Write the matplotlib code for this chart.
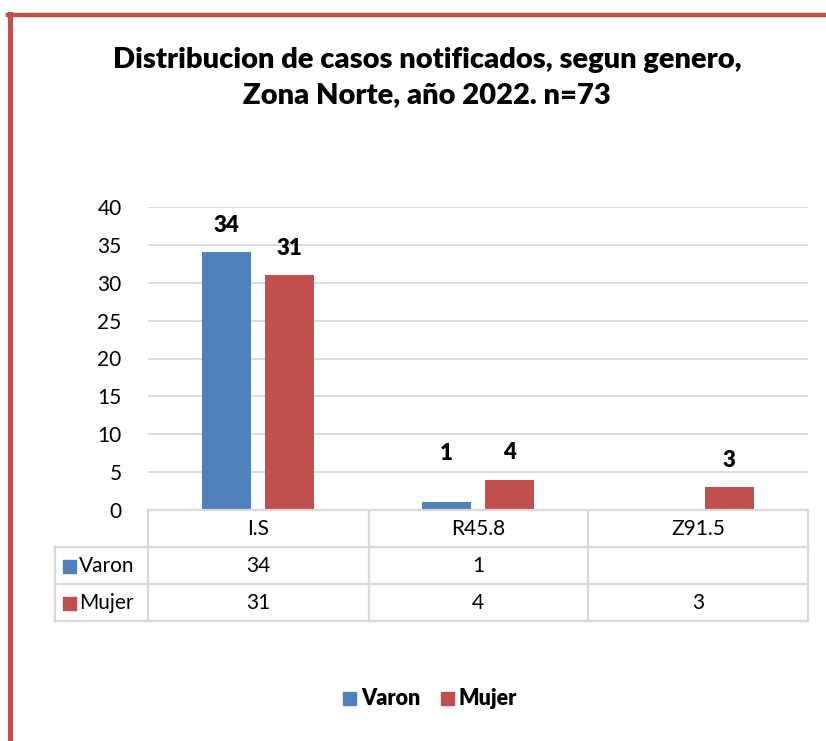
import matplotlib
matplotlib.use("Agg")
import matplotlib.pyplot as plt
from matplotlib.patches import Rectangle
from matplotlib.lines import Line2D

categories = ["I.S", "R45.8", "Z91.5"]
varon = [34, 1, None]
mujer = [31, 4, 3]
series_names = ["Varon", "Mujer"]
title = "Distribucion de casos notificados, segun genero,\nZona Norte, año 2022. n=73"
yticks = [0, 5, 10, 15, 20, 25, 30, 35, 40]

BLUE = "#4F81BD"
RED = "#C0504D"
GRID = "#D9D9D9"
FONT = ["Lato", "DejaVu Sans"]
plt.rcParams["font.family"] = FONT

W, H = 826, 741
fig = plt.figure(figsize=(W / 100, H / 100), dpi=100)

def fx(px):
    return px / W

def fy(py):
    return 1 - py / H

# Border (left and top red lines)
fig.add_artist(Line2D([fx(10), fx(10)], [fy(14), 0], transform=fig.transFigure, color=RED, lw=3.6))
fig.add_artist(Line2D([fx(8.2), 1], [fy(14.5), fy(14.5)], transform=fig.transFigure, color=RED, lw=3.2))

# Title
fig.text(fx(427), fy(77.5), title, ha="center", va="center", fontsize=21, fontweight="heavy",
         linespacing=1.42)

# Main axes
left, right, top, bottom = 148, 808, 207, 510
ax = fig.add_axes([fx(left), fy(bottom), fx(right - left), (bottom - top) / H])
ax.set_xlim(0, 3)
ax.set_ylim(0, 40)
ax.set_yticks(yticks)
ax.set_yticklabels([str(t) for t in yticks], fontsize=15)
ax.tick_params(axis="y", length=0, pad=19)
ax.set_xticks([])
for s in ax.spines.values():
    s.set_visible(False)
ax.yaxis.grid(True, color=GRID, lw=1.3)
ax.set_axisbelow(True)

bw = 49 / 220
off = 31.25 / 220
label_offsets = {("Varon", 1): 49}
for si, (name, vals, col, dx) in enumerate([("Varon", varon, BLUE, -off), ("Mujer", mujer, RED, off)]):
    for i, v in enumerate(vals):
        if v is None:
            continue
        x = i + 0.5 + dx
        ax.bar(x, v, width=bw, color=col, zorder=3)
        o = label_offsets.get((name, v), 27)
        ax.annotate(str(v), (x, v), xytext=(0, o), textcoords="offset pixels",
                    ha="center", va="center", fontsize=16, fontweight="heavy")

# Data table
def line(x0, y0, x1, y1):
    fig.add_artist(Line2D([fx(x0), fx(x1)], [fy(y0), fy(y1)], transform=fig.transFigure,
                          color=GRID, lw=1.6))

rows_y = [510, 547, 584, 621]
line(148, 510, 808, 510)
for yy in rows_y[1:]:
    line(55, yy, 808, yy)
line(55, 547, 55, 621)
for xx in [148, 369, 588, 808]:
    line(xx, 510, xx, 621)

colw = (right - left) / len(categories)
for i, c in enumerate(categories):
    cx = left + colw * (i + 0.5)
    fig.text(fx(cx), fy(529), c, ha="center", va="center", fontsize=15)
    for ri, vals in enumerate([varon, mujer]):
        v = vals[i]
        if v is not None:
            fig.text(fx(cx), fy(566 + 37 * ri), str(v), ha="center", va="center", fontsize=15)

for ri, (name, col) in enumerate(zip(series_names, [BLUE, RED])):
    yc = 566 + 37 * ri
    fig.add_artist(Rectangle((fx(63), fy(yc + 6.5)), fx(13), 13 / H, transform=fig.transFigure,
                             color=col))
    fig.text(fx(79), fy(yc), name, ha="left", va="center", fontsize=15)

# Legend
for name, col, kx in [("Varon", BLUE, 343), ("Mujer", RED, 441)]:
    fig.add_artist(Rectangle((fx(kx), fy(705)), fx(13), 13 / H, transform=fig.transFigure, color=col))
    fig.text(fx(kx + 18), fy(698.5), name, ha="left", va="center", fontsize=15.5, fontweight="heavy")

fig.savefig("out.png", dpi=100)
